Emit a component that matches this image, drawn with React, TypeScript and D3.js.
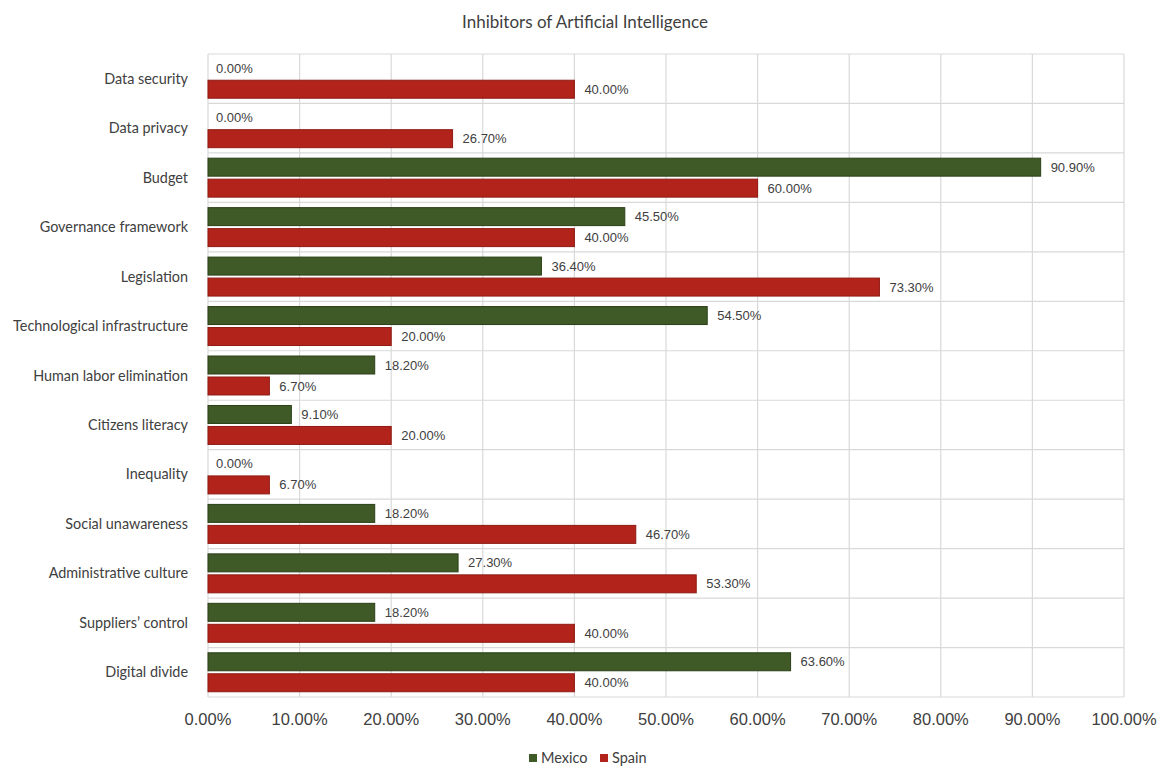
import React from "react";
import * as d3 from "d3";

const categories = [
  "Data security",
  "Data privacy",
  "Budget",
  "Governance framework",
  "Legislation",
  "Technological infrastructure",
  "Human labor elimination",
  "Citizens literacy",
  "Inequality",
  "Social unawareness",
  "Administrative culture",
  "Suppliers’ control",
  "Digital divide",
];
const mexico = [0, 0, 90.9, 45.5, 36.4, 54.5, 18.2, 9.1, 0, 18.2, 27.3, 18.2, 63.6];
const spain = [40, 26.7, 60, 40, 73.3, 20, 6.7, 20, 6.7, 46.7, 53.3, 40, 40];
const xTicks = [0, 10, 20, 30, 40, 50, 60, 70, 80, 90, 100];
const seriesNames = ["Mexico", "Spain"];
const colors = ["#3f5a26", "#b2231b"];
const strokes = ["#2a3f17", "#8e1a13"];

export default function App() {
  const W = 1163, H = 767;
  const left = 208, right = 1124, top = 54, bottom = 697;
  const x = d3.scaleLinear().domain([0, 100]).range([left, right]);
  const y = d3.scaleBand<string>().domain(categories).range([top, bottom]).paddingInner(0).paddingOuter(0);
  const inner = d3.scaleBand<number>().domain([0, 1]).range([0, y.bandwidth()]).paddingInner(0.143).paddingOuter(0.25);
  const series = [mexico, spain];
  const fmt = (v: number) => v.toFixed(2) + "%";
  const labelFont = "'Liberation Sans', Arial, Helvetica, sans-serif";
  const catFont = "Lato, 'Open Sans', sans-serif";

  return (
    <svg width={W} height={H} style={{ position: "absolute", left: 0, top: 0, background: "#fff" }}>
      <rect x={0} y={0} width={W} height={H} fill="#fff" />
      <text x={585} y={22} dy="0.35em" textAnchor="middle" fontFamily={catFont} fontSize={17} fill="#404040">
        Inhibitors of Artificial Intelligence
      </text>
      {xTicks.map((t) => (
        <line key={"vg" + t} x1={x(t)} x2={x(t)} y1={top} y2={bottom} stroke="#d9d9d9" strokeWidth={1.2} />
      ))}
      {categories.map((c, i) => (
        <line key={"hg" + i} x1={left} x2={right} y1={y(c)!} y2={y(c)!} stroke="#d9d9d9" strokeWidth={1.2} />
      ))}
      <line x1={left} x2={right} y1={bottom} y2={bottom} stroke="#d9d9d9" strokeWidth={1.2} />
      {categories.map((c, i) => (
        <g key={"g" + i}>
          {series.map((s, k) => {
            const by = y(c)! + inner(k)!;
            const bh = inner.bandwidth();
            const w = x(s[i]) - x(0);
            return (
              <g key={k}>
                {w > 0 && (
                  <rect x={x(0)} y={by} width={w} height={bh} fill={colors[k]} stroke={strokes[k]} strokeWidth={1} />
                )}
                <text x={x(s[i]) + (w > 0 ? 10 : 8)} y={by + bh / 2} dy="0.35em" fontFamily={labelFont} fontSize={13} fill="#404040">
                  {fmt(s[i])}
                </text>
              </g>
            );
          })}
          <text x={188} y={y(c)! + y.bandwidth() / 2} dy="0.35em" textAnchor="end" fontFamily={catFont} fontSize={14.4} fill="#404040">
            {c}
          </text>
        </g>
      ))}
      {xTicks.map((t) => (
        <text key={"xt" + t} x={x(t)} y={719} dy="0.35em" textAnchor="middle" fontFamily={labelFont} fontSize={16.5} fill="#404040">
          {fmt(t)}
        </text>
      ))}
      {seriesNames.map((n, k) => {
        const lx = k === 0 ? 529 : 600;
        return (
          <g key={"lg" + k}>
            <rect x={lx} y={754} width={8} height={8} fill={colors[k]} />
            <text x={lx + 12} y={758} dy="0.35em" fontFamily={catFont} fontSize={14.5} fill="#404040">
              {n}
            </text>
          </g>
        );
      })}
    </svg>
  );
}
